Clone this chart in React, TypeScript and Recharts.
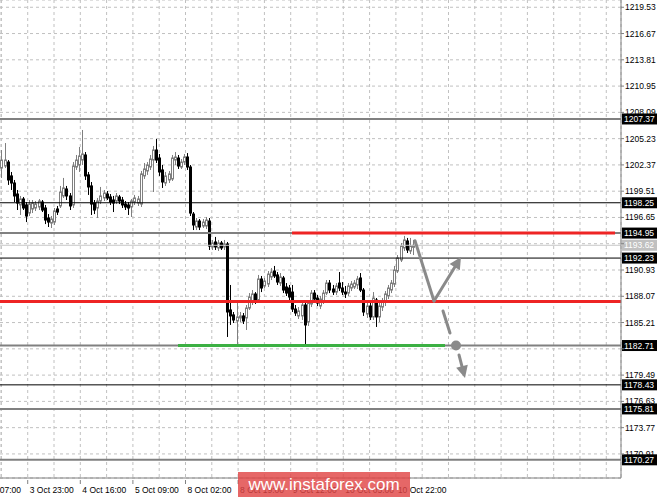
import React from "react";
import {
  ComposedChart,
  Bar,
  XAxis,
  YAxis,
  CartesianGrid,
  ReferenceLine,
  ReferenceDot,
} from "recharts";

const FONT = '"Liberation Sans", Arial, sans-serif';
const GRID = "#c0c0c0";
const AXIS = "#808080";
const ARROW = "#8a8a8a";

// hourly candles, 3 Oct .. 10 Oct
const open = [
  1202.03, 1202.25, 1202.68, 1201.17, 1200.4, 1199.2, 1198.01, 1198.66, 1198.01, 1197.13,
  1197.57, 1197.68, 1197.79, 1198.33, 1197.68, 1196.59, 1196.04, 1196.15, 1197.57, 1197.9,
  1198.99, 1199.75, 1198.99, 1198.01, 1202.14, 1202.36, 1202.9, 1203.45, 1201.28, 1200.08,
  1198.22, 1197.68, 1198.44, 1198.77, 1199.2, 1198.88, 1198.55, 1198.44, 1198.88, 1198.55,
  1198.11, 1198.01, 1197.79, 1198.33, 1198.22, 1198.11, 1201.17, 1201.71, 1202.14, 1202.9,
  1203.99, 1203.12, 1201.82, 1200.4, 1200.73, 1200.84, 1202.9, 1203.12, 1202.14, 1202.68,
  1203.23, 1202.14, 1197.02, 1195.61, 1196.26, 1195.72, 1195.72, 1196.26, 1193.44, 1193.98,
  1193.33, 1193.87, 1193.44, 1193.76, 1186.58, 1186.04, 1185.38, 1185.71, 1185.93, 1185.71,
  1186.79, 1187.55, 1188.32, 1187.66, 1189.95, 1189.19, 1189.4, 1190.17, 1190.82, 1190.39,
  1189.51, 1190.06, 1189.08, 1188.97, 1188.53, 1186.68, 1185.93, 1185.93, 1187.12, 1185.27,
  1187.23, 1188.42, 1187.88, 1187.01, 1187.55, 1188.42, 1189.51, 1188.86, 1188.53, 1189.51,
  1188.97, 1188.53, 1188.42, 1188.97, 1189.08, 1189.3, 1190.06, 1188.75, 1186.14, 1187.01,
  1185.82, 1187.66, 1185.82, 1186.9, 1187.44, 1188.1, 1188.75, 1189.4, 1190.82, 1192.02,
  1193.33, 1194.09, 1193.0, 1193.4,
];
const high = [
  1203.99, 1204.75, 1202.9, 1201.6, 1200.73, 1199.64, 1198.99, 1198.88, 1198.33, 1198.55,
  1198.55, 1198.44, 1198.66, 1198.55, 1198.01, 1197.02, 1196.81, 1197.68, 1197.9, 1200.08,
  1200.95, 1200.08, 1199.31, 1202.68, 1203.45, 1204.32, 1206.17, 1203.77, 1201.6, 1200.51,
  1198.55, 1198.77, 1199.97, 1199.64, 1199.53, 1199.2, 1198.99, 1199.31, 1199.1, 1198.88,
  1198.44, 1198.33, 1198.66, 1199.1, 1198.99, 1201.71, 1202.58, 1202.68, 1203.45, 1204.43,
  1205.19, 1203.56, 1202.36, 1201.6, 1201.71, 1203.45, 1203.77, 1203.45, 1203.01, 1203.56,
  1203.66, 1202.36, 1197.24, 1196.59, 1196.48, 1196.48, 1196.7, 1196.59, 1194.2, 1194.53,
  1194.2, 1194.09, 1194.2, 1193.98, 1189.3, 1186.36, 1187.44, 1186.36, 1186.25, 1187.12,
  1188.42, 1188.75, 1188.53, 1190.39, 1190.28, 1190.06, 1190.82, 1191.15, 1191.37, 1190.71,
  1190.6, 1190.28, 1189.51, 1189.3, 1189.3, 1187.12, 1186.9, 1187.44, 1187.44, 1187.66,
  1188.75, 1188.75, 1188.21, 1188.1, 1188.75, 1189.84, 1189.84, 1189.3, 1189.51, 1190.71,
  1189.62, 1189.19, 1189.51, 1189.73, 1189.84, 1190.28, 1190.6, 1188.97, 1187.44, 1187.34,
  1188.53, 1187.88, 1187.34, 1187.88, 1188.64, 1189.3, 1189.84, 1191.37, 1192.56, 1193.87,
  1194.64, 1194.42, 1194.42, 1194.2,
];
const low = [
  1200.95, 1202.03, 1200.19, 1199.64, 1198.33, 1197.46, 1196.92, 1197.46, 1196.15, 1196.81,
  1197.13, 1197.35, 1197.46, 1197.24, 1195.93, 1195.61, 1195.5, 1195.83, 1196.92, 1197.68,
  1198.77, 1198.55, 1197.46, 1197.68, 1201.82, 1201.6, 1202.36, 1200.73, 1199.1, 1196.92,
  1197.02, 1196.59, 1198.11, 1198.44, 1198.55, 1198.01, 1197.24, 1198.11, 1198.11, 1197.68,
  1197.46, 1196.92, 1196.7, 1198.01, 1197.9, 1197.79, 1200.84, 1201.28, 1201.82, 1199.42,
  1202.58, 1201.17, 1199.86, 1200.08, 1200.4, 1200.62, 1202.36, 1201.93, 1201.93, 1202.36,
  1201.82, 1196.81, 1195.28, 1195.28, 1195.28, 1195.5, 1195.39, 1193.11, 1193.11, 1193.11,
  1193.0, 1193.11, 1193.11, 1183.64, 1184.95, 1185.16, 1182.71, 1185.27, 1185.05, 1184.4,
  1186.58, 1187.12, 1187.23, 1187.44, 1188.53, 1188.97, 1189.08, 1189.84, 1190.06, 1189.3,
  1189.19, 1188.42, 1188.1, 1187.66, 1186.36, 1185.93, 1185.6, 1185.49, 1182.71, 1184.84,
  1186.9, 1187.44, 1187.01, 1186.68, 1187.23, 1188.21, 1188.42, 1188.21, 1188.21, 1188.64,
  1188.21, 1187.88, 1188.1, 1188.64, 1188.86, 1188.86, 1188.53, 1185.93, 1185.71, 1185.49,
  1185.49, 1184.73, 1185.27, 1186.47, 1187.01, 1187.77, 1188.42, 1189.08, 1190.6, 1191.8,
  1193.0, 1192.78, 1192.67, 1192.56,
];
const close = [
  1202.9, 1202.9, 1200.73, 1200.4, 1198.99, 1198.22, 1198.66, 1197.68, 1196.81, 1198.11,
  1198.22, 1198.11, 1198.44, 1197.46, 1196.37, 1196.15, 1196.48, 1197.35, 1197.24, 1199.42,
  1199.86, 1198.99, 1197.9, 1202.25, 1202.9, 1203.34, 1203.56, 1201.17, 1199.97, 1198.11,
  1197.46, 1198.44, 1198.99, 1199.31, 1198.77, 1198.33, 1198.22, 1198.99, 1198.44, 1198.01,
  1197.79, 1197.68, 1198.44, 1198.77, 1198.66, 1201.39, 1201.93, 1202.36, 1203.01, 1203.99,
  1202.9, 1201.6, 1200.51, 1201.17, 1201.39, 1203.12, 1203.23, 1202.25, 1202.68, 1203.23,
  1202.14, 1197.13, 1195.83, 1196.26, 1195.61, 1196.15, 1196.37, 1193.54, 1193.87, 1193.44,
  1193.87, 1193.33, 1193.76, 1186.36, 1185.93, 1185.49, 1185.82, 1185.93, 1185.38, 1186.79,
  1187.99, 1188.32, 1187.55, 1189.95, 1188.97, 1189.73, 1190.49, 1190.71, 1190.28, 1189.62,
  1190.17, 1188.75, 1188.42, 1187.99, 1186.68, 1186.25, 1186.47, 1187.12, 1184.95, 1187.34,
  1188.42, 1187.77, 1187.34, 1187.77, 1188.42, 1189.51, 1188.75, 1188.53, 1189.19, 1188.97,
  1188.53, 1188.32, 1189.19, 1189.4, 1189.51, 1189.95, 1188.75, 1186.36, 1187.01, 1185.82,
  1187.88, 1185.82, 1187.01, 1187.55, 1188.32, 1188.97, 1189.51, 1190.93, 1192.24, 1193.54,
  1194.2, 1193.11, 1193.54, 1193.62,
];

const priceTicks = [
  1219.53, 1216.67, 1213.81, 1210.95, 1208.09, 1205.23, 1202.37, 1199.51, 1196.65,
  1193.79, 1190.93, 1188.07, 1185.21, 1182.35, 1179.49, 1176.63, 1173.77, 1170.91,
];
// tick labels that sit under a price box on the right scale
const coveredTicks = [1193.79, 1182.35];
const timeLabels = [
  "3 Oct 07:00", "3 Oct 23:00", "4 Oct 16:00", "5 Oct 09:00", "8 Oct 02:00",
  "8 Oct 19:00", "9 Oct 12:00", "10 Oct 05:00", "10 Oct 22:00",
];

// horizontal levels
const grayLevels = [1207.37, 1194.95, 1182.71, 1175.81, 1170.27];
const blackLevels = [1198.25, 1192.23, 1178.43];
const currentPrice = 1193.62;
const resistance = 1194.95;
const pivot = 1187.5;
const support = 1182.71;

// forecast sketch (bar index, price)
const upPath = [
  { x: 133.65, y: 1194.12 },
  { x: 139.79, y: 1187.55 },
  { x: 148.51, y: 1192.35 },
];
const downPath = [
  { x: 142.7, y: 1186.47 },
  { x: 144.96, y: 1184.07 },
  { x: 147.87, y: 1181.68 },
  { x: 149.81, y: 1179.18 },
];
const pivotDot = { x: 146.9, y: 1182.71 };

const data = open.map((o, i) => ({ i, open: o, high: high[i], low: low[i], close: close[i] }));

// grid every 8.5 bars, label on every second one
const xTicks = Array.from({ length: 25 }, (_, k) => -8.53 + 8.5 * k);

const Candle = (props: any) => {
  const { x, y, width, height, payload } = props;
  const { open: o, close: c, high: h, low: l } = payload;
  const cx = Math.round(x + width / 2) + 0.5;
  const k = h > l ? height / (h - l) : 0;
  const top = y + (h - Math.max(o, c)) * k;
  const bot = y + (h - Math.min(o, c)) * k;
  const bull = c >= o;
  const col = bull ? "#7f7f7f" : "#000";
  return (
    <g>
      <line x1={cx} x2={cx} y1={y} y2={y + height} stroke={col} strokeWidth={1} />
      <rect
        x={cx - 1}
        y={top}
        width={2}
        height={Math.max(bot - top, 1)}
        fill={bull ? "#fff" : "#000"}
        stroke={col}
        strokeWidth={1}
      />
    </g>
  );
};

const XTick = ({ x, y, payload }: any) => {
  const k = xTicks.findIndex((t) => Math.abs(t - payload.value) < 1e-6);
  const label = k >= 0 && k % 2 === 0 ? timeLabels[k / 2] : undefined;
  if (!label) return <g />;
  return (
    <g>
      <line x1={x} x2={x} y1={y} y2={y + 4} stroke={AXIS} />
      <text x={x + 2} y={y + 13} fontSize={8.5} fontFamily={FONT} fill="#000">
        {label}
      </text>
    </g>
  );
};

const priceBox = (price: number, bg: string) => (p: any) => {
  const vb = p.viewBox || {};
  const y = vb.y ?? 0;
  const x = vb.width != null ? vb.x + vb.width + 1 : 622;
  return (
    <g>
      <rect x={x} y={y - 5.5} width={35} height={11} fill={bg} />
      <text x={x + 2} y={y + 3.2} fill="#fff" fontSize={8.5} fontFamily={FONT}>
        {price.toFixed(2)}
      </text>
    </g>
  );
};

const arrowShape = (head: boolean) => (p: any) => {
  const { x1, y1, x2, y2 } = p;
  const dx = x2 - x1;
  const dy = y2 - y1;
  const len = Math.hypot(dx, dy) || 1;
  const ux = dx / len;
  const uy = dy / len;
  const L = 12;
  const W = 6;
  const bx = x2 - ux * L;
  const by = y2 - uy * L;
  return (
    <g>
      <line
        x1={x1}
        y1={y1}
        x2={head ? bx : x2}
        y2={head ? by : y2}
        stroke={ARROW}
        strokeWidth={3}
        strokeLinecap="round"
      />
      {head && (
        <polygon
          points={`${x2},${y2} ${bx - uy * W},${by + ux * W} ${bx + uy * W},${by - ux * W}`}
          fill={ARROW}
        />
      )}
    </g>
  );
};

export default function App() {
  return (
    <div style={{ position: "absolute", left: 0, top: 0, width: 665, height: 497, background: "#fff" }}>
      <ComposedChart width={665} height={497} data={data} margin={{ top: 0, right: 0, bottom: 0, left: 0 }}>
        <CartesianGrid stroke={GRID} strokeDasharray="3 3" />
        <XAxis
          dataKey="i"
          type="number"
          domain={[-0.485, 200.23]}
          allowDataOverflow
          ticks={xTicks}
          interval={0}
          height={19}
          tickLine={false}
          tickSize={0}
          axisLine={{ stroke: AXIS }}
          tick={<XTick />}
        />
        <YAxis
          orientation="right"
          type="number"
          domain={[1168.29, 1220.32]}
          allowDataOverflow
          ticks={priceTicks}
          interval={0}
          width={44}
          tickSize={3}
          tickMargin={1}
          tickLine={{ stroke: AXIS }}
          axisLine={{ stroke: AXIS }}
          tick={{ fontSize: 8.5, fontFamily: FONT, fill: "#000" }}
          tickFormatter={(v: number) => (coveredTicks.includes(v) ? "" : v.toFixed(2))}
        />
        <Bar
          dataKey={(d: any) => [d.low, d.high]}
          barSize={3}
          shape={<Candle />}
          isAnimationActive={false}
        />
        <ReferenceLine
          y={currentPrice}
          stroke="#c8c8c8"
          strokeWidth={1}
          label={{ content: priceBox(currentPrice, "#c0c0c0") }}
        />
        {grayLevels.map((v) => (
          <ReferenceLine key={v} y={v} stroke={AXIS} strokeWidth={2} label={{ content: priceBox(v, "#000") }} />
        ))}
        {blackLevels.map((v) => (
          <ReferenceLine key={v} y={v} stroke="#000" strokeWidth={1} label={{ content: priceBox(v, "#000") }} />
        ))}
        <ReferenceLine y={pivot} stroke="#ee2424" strokeWidth={3} />
        <ReferenceLine
          segment={[
            { x: 93.9, y: resistance },
            { x: 198.3, y: resistance },
          ]}
          stroke="#ee2424"
          strokeWidth={3}
        />
        <ReferenceLine
          segment={[
            { x: 57.05, y: support },
            { x: 143.34, y: support },
          ]}
          stroke="#3cb043"
          strokeWidth={3}
        />
        <ReferenceLine segment={[upPath[0], upPath[1]]} shape={arrowShape(false)} />
        <ReferenceLine segment={[upPath[1], upPath[2]]} shape={arrowShape(true)} />
        <ReferenceLine segment={[downPath[0], downPath[1]]} shape={arrowShape(false)} />
        <ReferenceLine segment={[downPath[2], downPath[3]]} shape={arrowShape(true)} />
        <ReferenceDot x={pivotDot.x} y={pivotDot.y} r={5} fill={ARROW} stroke="none" />
      </ComposedChart>
      <div
        style={{
          position: "absolute",
          left: 238,
          top: 472,
          width: 172,
          height: 25,
          background: "rgba(224, 70, 70, 0.82)",
          color: "#fff",
          fontFamily: FONT,
          fontSize: 17,
          lineHeight: "25px",
          textAlign: "center",
        }}
      >
        www.instaforex.com
      </div>
    </div>
  );
}
